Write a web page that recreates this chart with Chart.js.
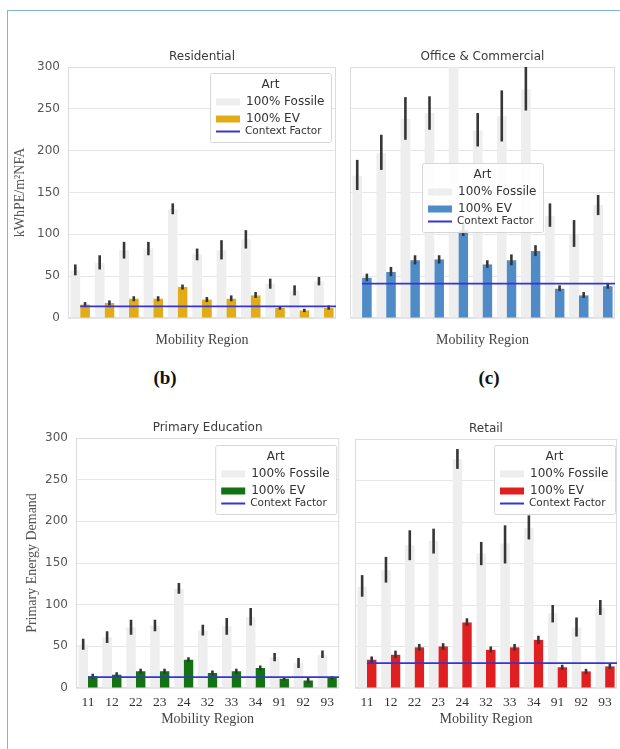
<!DOCTYPE html>
<html><head><meta charset="utf-8">
<script src="https://cdn.jsdelivr.net/npm/chart.js@4.4.1/dist/chart.umd.min.js"></script>
<style>
html,body{margin:0;padding:0;background:#fff;width:620px;height:749px;overflow:hidden;position:relative;font-family:"DejaVu Sans",sans-serif;}
#frame{position:absolute;left:7px;top:10px;width:720px;height:800px;border-left:1.5px solid #7db7cb;border-top:1.5px solid #7db7cb;}
.wrap{position:absolute;}
.lab{position:absolute;font-family:"Liberation Serif",serif;font-weight:bold;font-size:19px;color:#111;transform:translate(-50%,-50%);}
</style></head><body>
<div id="frame"></div>
<div class="lab" style="left:165px;top:378px">(b)</div>
<div class="lab" style="left:489px;top:378px">(c)</div>
<div class="wrap" style="left:10px;top:40px;width:330px;height:315px"><canvas id="cA"></canvas></div>
<div class="wrap" style="left:340px;top:40px;width:280px;height:315px"><canvas id="cB"></canvas></div>
<div class="wrap" style="left:10px;top:410px;width:330px;height:325px"><canvas id="cC"></canvas></div>
<div class="wrap" style="left:340px;top:410px;width:280px;height:325px"><canvas id="cD"></canvas></div>
<script>
// ---------- DATA ----------
const categories = ['11','12','22','23','24','32','33','34','91','92','93'];
const seriesNames = ['100% Fossile', '100% EV', 'Context Factor'];
const yTicks = [0, 50, 100, 150, 200, 250, 300];

// Residential
const resFossil   = [57, 66, 81, 83, 130, 76, 81, 94, 41, 33, 44];
const resFossilLo = [51, 58, 71, 75, 124, 69, 70, 83, 35, 27, 39];
const resFossilHi = [64, 75, 91, 91, 137, 83, 93, 105, 47, 39, 49];
const resEV       = [16, 18, 23, 23, 37, 22, 23, 27, 12, 9, 12];
const resEVLo     = [13, 15, 20, 20, 34, 19, 20, 24, 10, 7, 10];
const resEVHi     = [19, 21, 26, 26, 40, 25, 27, 31, 14, 11, 15];
const resContext  = 14;

// Office & Commercial
const offFossil   = [170, 197, 238, 245, 330, 224, 241, 273, 122, 100, 135];
const offFossilLo = [153, 177, 213, 225, 310, 205, 211, 248, 109, 85, 123];
const offFossilHi = [189, 219, 264, 265, 350, 245, 272, 300, 137, 117, 147];
const offEV       = [48, 55, 69, 70, 105, 64, 69, 80, 35, 27, 38];
const offEVLo     = [44, 50, 64, 65, 98, 60, 63, 74, 32, 24, 35];
const offEVHi     = [53, 61, 75, 75, 112, 69, 76, 87, 39, 31, 42];
const offContext  = 41;

// Primary Education
const priFossil   = [52, 61, 73, 75, 119, 69, 74, 85, 37, 30, 40];
const priFossilLo = [46, 54, 64, 68, 113, 63, 64, 75, 32, 24, 36];
const priFossilHi = [59, 68, 82, 82, 126, 76, 84, 96, 42, 36, 45];
const priEV       = [14, 16, 20, 20, 34, 18, 20, 24, 11, 9, 12];
const priEVLo     = [11, 13, 17, 17, 31, 15, 17, 21, 9, 6, 10];
const priEVHi     = [17, 19, 23, 23, 37, 21, 23, 27, 13, 12, 14];
const priContext  = 13;

// Retail
const retFossil   = [122, 142, 172, 177, 276, 162, 174, 193, 90, 73, 97];
const retFossilLo = [110, 127, 154, 162, 264, 148, 150, 179, 79, 62, 88];
const retFossilHi = [136, 158, 190, 192, 288, 176, 196, 208, 100, 85, 106];
const retEV       = [34, 40, 49, 50, 79, 46, 49, 58, 25, 20, 26];
const retEVLo     = [30, 36, 45, 46, 75, 43, 45, 53, 22, 17, 23];
const retEVHi     = [38, 45, 53, 54, 84, 50, 53, 63, 28, 23, 29];
const retContext  = 30;

// ---------- STYLE ----------
const FOSSIL_COLOR = '#eeeeee';
const CONTEXT_COLOR = '#3535d6';
const ERR_COLOR = '#363636';

// ---------- PLUGINS ----------
const panelPlugin = {
  id: 'panel',
  beforeDatasetsDraw(chart) {
    const ca = chart.chartArea, ctx = chart.ctx;
    ctx.save();
    ctx.strokeStyle = '#dcdcdc'; ctx.lineWidth = 1;
    ctx.strokeRect(ca.left + 0.5, ca.top + 0.5, ca.right - ca.left - 1, ca.bottom - ca.top - 1);
    ctx.restore();
  },
  afterDatasetsDraw(chart) {
    const o = chart.options.plugins.panel;
    const ctx = chart.ctx, ca = chart.chartArea, ys = chart.scales.y, xs = chart.scales.x;
    ctx.save();
    ctx.beginPath(); ctx.rect(ca.left, ca.top, ca.right - ca.left, ca.bottom - ca.top); ctx.clip();
    // error bars (confidence intervals)
    ctx.strokeStyle = ERR_COLOR; ctx.lineWidth = 2.6; ctx.lineCap = 'butt';
    chart.data.datasets.forEach((ds, di) => {
      if (!ds.errLo) return;
      const meta = chart.getDatasetMeta(di);
      meta.data.forEach((el, i) => {
        const y1 = ys.getPixelForValue(ds.errLo[i]);
        const y2 = ys.getPixelForValue(ds.errHi[i]);
        ctx.beginPath(); ctx.moveTo(el.x, y1); ctx.lineTo(el.x, y2); ctx.stroke();
      });
    });
    // context factor line
    const yc = ys.getPixelForValue(o.context);
    ctx.strokeStyle = CONTEXT_COLOR; ctx.lineWidth = 1.8;
    ctx.beginPath(); ctx.moveTo(xs.getPixelForValue(0), yc); ctx.lineTo(ca.right, yc); ctx.stroke();
    ctx.restore();
  },
  afterDraw(chart) {
    const o = chart.options.plugins.panel;
    const ca = chart.chartArea, ctx = chart.ctx;
    ctx.save();
    // title
    ctx.fillStyle = '#3a3a3a';
    ctx.font = '12px "DejaVu Sans"';
    ctx.textAlign = 'center'; ctx.textBaseline = 'middle';
    ctx.fillText(o.title, (ca.left + ca.right) / 2, ca.top - 10.5);
    // legend
    const w = 121, h = 69;
    const x = o.anchor === 'left' ? ca.left + o.dx : ca.right - o.dx - w;
    const y = ca.top + o.dy;
    ctx.fillStyle = 'rgba(255,255,255,0.85)';
    ctx.strokeStyle = '#d6d6d6'; ctx.lineWidth = 1;
    ctx.beginPath();
    ctx.roundRect(x + 0.5, y + 0.5, w, h, 2);
    ctx.fill(); ctx.stroke();
    const ds = chart.data.datasets;
    ctx.fillStyle = '#333';
    ctx.font = '12px "DejaVu Sans"';
    ctx.fillText('Art', x + w / 2, y + 12);
    ctx.textAlign = 'left';
    ctx.fillStyle = ds[0].backgroundColor; ctx.fillRect(x + 6, y + 29 - 3.5, 24, 7);
    ctx.fillStyle = '#333'; ctx.fillText(ds[0].label, x + 36, y + 29);
    ctx.fillStyle = ds[1].backgroundColor; ctx.fillRect(x + 6, y + 46 - 3.5, 24, 7);
    ctx.fillStyle = '#333'; ctx.fillText(ds[1].label, x + 36, y + 46);
    ctx.strokeStyle = CONTEXT_COLOR; ctx.lineWidth = 2;
    ctx.beginPath(); ctx.moveTo(x + 6, y + 58.5); ctx.lineTo(x + 30, y + 58.5); ctx.stroke();
    ctx.font = '10.5px "DejaVu Sans"';
    ctx.fillText(seriesNames[2], x + 35, y + 58.5);
    ctx.restore();
  }
};

function makePanel(id, p) {
  new Chart(document.getElementById(id), {
    type: 'bar',
    data: {
      labels: categories,
      datasets: [
        {label: seriesNames[0], data: p.fossil, errLo: p.fossilLo, errHi: p.fossilHi,
         backgroundColor: FOSSIL_COLOR, categoryPercentage: 0.8, barPercentage: 1.0},
        {label: seriesNames[1], data: p.ev, errLo: p.evLo, errHi: p.evHi,
         backgroundColor: p.evColor, categoryPercentage: 0.8, barPercentage: 1.0}
      ]
    },
    options: {
      responsive: true, maintainAspectRatio: false, animation: false,
      layout: {padding: {left: 0, top: p.padTop, right: p.padRight, bottom: 0}},
      plugins: {
        legend: {display: false}, tooltip: {enabled: false},
        panel: {title: p.title, anchor: p.anchor, dx: p.dx, dy: p.dy, context: p.context}
      },
      scales: {
        x: {
          type: 'category', offset: true,
          grid: {display: false, drawTicks: false}, border: {display: false},
          ticks: {display: p.showX, color: '#333', padding: 6,
                  font: {family: '"Liberation Serif"', size: 13.5}},
          title: {display: true, text: 'Mobility Region', color: '#444',
                  font: {family: '"Liberation Serif"', size: 14}, padding: {top: 0, bottom: p.xTitlePad}},
          afterFit(s) { s.height = p.xH; }
        },
        y: {
          min: 0, max: 300,
          grid: {color: '#e6e6e6', drawTicks: false}, border: {display: false},
          afterBuildTicks(s) { s.ticks = yTicks.map(v => ({value: v})); },
          ticks: {display: p.showY, color: '#555', padding: 8, font: {family: '"DejaVu Sans"', size: 12}},
          title: {display: !!p.yTitle, text: p.yTitle || '', color: '#555',
                  font: {family: '"Liberation Serif"', size: 14}, padding: {top: p.yTitlePad, bottom: 0}},
          afterFit(s) { s.width = p.yW; }
        }
      }
    },
    plugins: [panelPlugin]
  });
}

makePanel('cA', {title: 'Residential', fossil: resFossil, fossilLo: resFossilLo, fossilHi: resFossilHi,
  ev: resEV, evLo: resEVLo, evHi: resEVHi, context: resContext, evColor: '#e2ac18',
  padTop: 27, padRight: 4, yW: 58, xH: 37, showX: false, showY: true, xTitlePad: 6.6,
  yTitle: 'kWhPE/m²NFA', yTitlePad: 1.6, anchor: 'right', dx: 5, dy: 6});
makePanel('cB', {title: 'Office & Commercial', fossil: offFossil, fossilLo: offFossilLo, fossilHi: offFossilHi,
  ev: offEV, evLo: offEVLo, evHi: offEVHi, context: offContext, evColor: '#4f8bc6',
  padTop: 27, padRight: 5, yW: 10, xH: 37, showX: false, showY: false, xTitlePad: 6.6,
  yTitle: null, yTitlePad: 0, anchor: 'left', dx: 72, dy: 96});
makePanel('cC', {title: 'Primary Education', fossil: priFossil, fossilLo: priFossilLo, fossilHi: priFossilHi,
  ev: priEV, evLo: priEVLo, evHi: priEVHi, context: priContext, evColor: '#137313',
  padTop: 28, padRight: 0, yW: 66, xH: 47, showX: true, showY: true, xTitlePad: 7.6,
  yTitle: 'Primary Energy Demand', yTitlePad: 13.6, anchor: 'right', dx: 3, dy: 7});
makePanel('cD', {title: 'Retail', fossil: retFossil, fossilLo: retFossilLo, fossilHi: retFossilHi,
  ev: retEV, evLo: retEVLo, evHi: retEVHi, context: retContext, evColor: '#e02020',
  padTop: 29, padRight: 3, yW: 15, xH: 47, showX: true, showY: false, xTitlePad: 7.6,
  yTitle: null, yTitlePad: 0, anchor: 'right', dx: 2, dy: 6});
</script>
</body></html>
